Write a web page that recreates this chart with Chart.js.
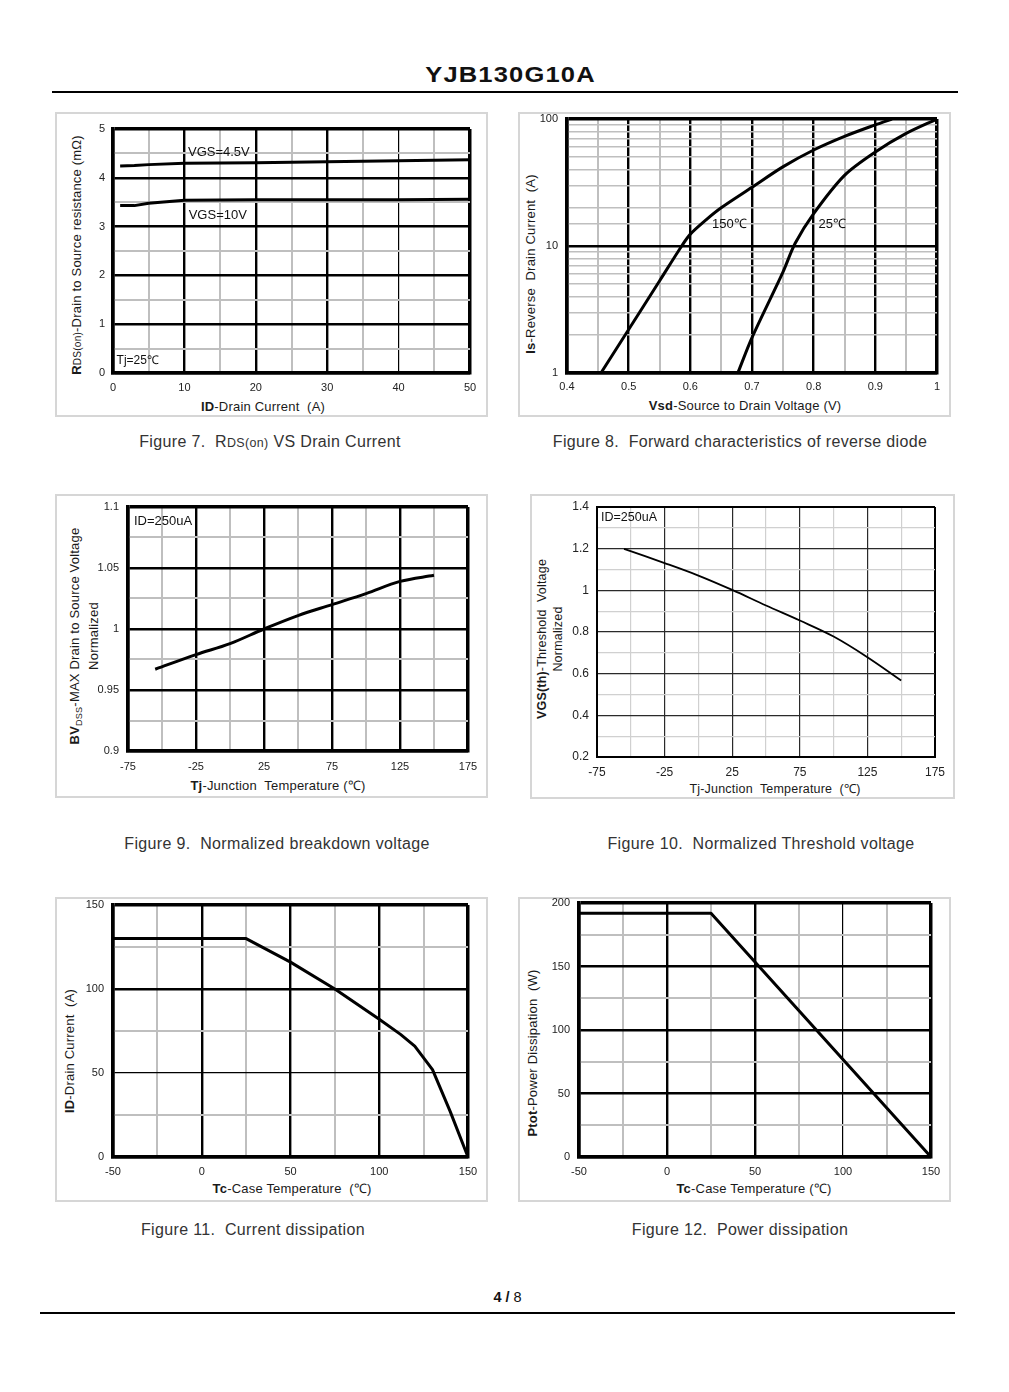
<!DOCTYPE html>
<html>
<head>
<meta charset="utf-8">
<script src="https://cdn.jsdelivr.net/npm/chart.js@4.4.1/dist/chart.umd.min.js"></script>
<style>
  html, body { margin:0; padding:0; background:#fff; }
  #page { position:relative; width:1009px; height:1392px; background:#fff; overflow:hidden;
          font-family:"Liberation Sans", Arial, sans-serif; color:#111; }
  .abs { position:absolute; }
  .panel { position:absolute; box-sizing:border-box; border:2px solid #d6d6d6; }
  canvas { position:absolute; }
  .ytitle { position:absolute; white-space:nowrap; transform:translate(-50%,-50%) rotate(-90deg);
            font-size:13px; letter-spacing:0.2px; color:#1a1a1a; text-align:center; line-height:16px; }
  .xtitle { position:absolute; white-space:nowrap; transform:translate(-50%,-50%);
            font-size:13px; letter-spacing:0.2px; color:#1a1a1a; }
  .cap { position:absolute; white-space:nowrap; transform:translateX(-50%);
         font-size:16px; letter-spacing:0.35px; color:#333; line-height:18px; }
  .small { font-size:0.78em; }
  .sub { font-size:0.7em; vertical-align:-0.25em; }
</style>
</head>
<body>
<div id="page">
  <div class="abs" style="left:6px;width:1009px;top:62px;text-align:center;line-height:26px;">
    <span style="display:inline-block;font-weight:bold;font-size:22px;letter-spacing:1px;transform:scaleX(1.16);">YJB130G10A</span>
  </div>
  <div class="abs" style="left:52px;top:91px;width:906px;height:2px;background:#000;"></div>

  <div class="abs" style="left:3px;width:1009px;top:1289px;text-align:center;font-size:14.5px;">
    <b>4 /</b> 8
  </div>
  <div class="abs" style="left:40px;top:1312px;width:915px;height:2px;background:#000;"></div>

  <!-- axis titles -->
  <div class="ytitle" style="left:77px;top:255px;"><b>R</b><span class="small">DS(on)</span>-Drain to Source resistance (mΩ)</div>
  <div class="xtitle" style="left:263px;top:406px;"><b>ID</b>-Drain Current&nbsp; (A)</div>

  <div class="ytitle" style="left:531px;top:264px;"><b>Is</b>-Reverse&nbsp; Drain Current&nbsp; (A)</div>
  <div class="xtitle" style="left:745px;top:405px;"><b>Vsd</b>-Source to Drain Voltage (V)</div>

  <div class="ytitle" style="left:85px;top:636px;"><b>BV</b><span class="sub">DSS</span>-MAX Drain to Source Voltage<br>Normalized</div>
  <div class="xtitle" style="left:278px;top:785px;"><b>Tj</b>-Junction&nbsp; Temperature (℃)</div>

  <div class="ytitle" style="left:550px;top:639px;font-size:12.5px;"><b>VGS(th)</b>-Threshold&nbsp; Voltage<br>Normalized</div>
  <div class="xtitle" style="left:775px;top:788px;font-size:12.5px;">Tj-Junction&nbsp; Temperature&nbsp; (℃)</div>

  <div class="ytitle" style="left:70px;top:1051px;"><b>ID</b>-Drain Current&nbsp; (A)</div>
  <div class="xtitle" style="left:292px;top:1188px;"><b>Tc</b>-Case Temperature&nbsp; (℃)</div>

  <div class="ytitle" style="left:533px;top:1053px;"><b>Ptot</b>-Power Dissipation&nbsp; (W)</div>
  <div class="xtitle" style="left:754px;top:1188px;"><b>Tc</b>-Case Temperature (℃)</div>

  <!-- captions -->
  <div class="cap" style="left:270px;top:433px;">Figure 7.&nbsp; R<span class="small">DS(on)</span> VS Drain Current</div>
  <div class="cap" style="left:740px;top:433px;">Figure 8.&nbsp; Forward characteristics of reverse diode</div>
  <div class="cap" style="left:277px;top:835px;">Figure 9.&nbsp; Normalized breakdown voltage</div>
  <div class="cap" style="left:761px;top:835px;">Figure 10.&nbsp; Normalized Threshold voltage</div>
  <div class="cap" style="left:253px;top:1221px;">Figure 11.&nbsp; Current dissipation</div>
  <div class="cap" style="left:740px;top:1221px;">Figure 12.&nbsp; Power dissipation</div>
</div>

<script>
// ---------------- DATA ----------------
// Figure 7: RDS(on) vs drain current
const fig7Current   = [1, 3, 5, 10, 20, 30, 40, 50];
const fig7Vgs45     = [4.24, 4.25, 4.27, 4.30, 4.31, 4.33, 4.35, 4.37];
const fig7Vgs10     = [3.43, 3.43, 3.48, 3.54, 3.55, 3.55, 3.55, 3.56];
const fig7XTicks    = [0, 10, 20, 30, 40, 50];
const fig7YTicks    = [0, 1, 2, 3, 4, 5];

// Figure 8: forward characteristics of reverse diode
const fig8Vsd150    = [0.455, 0.5, 0.55, 0.586, 0.6, 0.625, 0.65, 0.7, 0.75, 0.8, 0.85, 0.9, 0.927];
const fig8Is150     = [1, 2.2, 5.3, 10, 12.4, 16, 20, 29, 42, 57, 73, 90, 100];
const fig8Vsd25     = [0.677, 0.7, 0.75, 0.77, 0.8, 0.85, 0.9, 0.95, 1.0];
const fig8Is25      = [1, 1.9, 6.2, 10.5, 18, 36, 55, 77, 100];
const fig8XTicks    = [0.4, 0.5, 0.6, 0.7, 0.8, 0.9, 1];
const fig8YTicks    = [1, 10, 100];

// Figure 9: normalized breakdown voltage
const fig9Temp      = [-55, -25, 0, 25, 50, 75, 100, 125, 150];
const fig9BV        = [0.967, 0.979, 0.988, 1.0, 1.011, 1.020, 1.029, 1.039, 1.044];
const fig9XTicks    = [-75, -25, 25, 75, 125, 175];
const fig9YTicks    = [0.9, 0.95, 1, 1.05, 1.1];

// Figure 10: normalized threshold voltage
const fig10Temp     = [-55, -25, 0, 25, 50, 75, 100, 125, 150];
const fig10Vth      = [1.199, 1.131, 1.071, 1.002, 0.927, 0.855, 0.778, 0.679, 0.567];
const fig10XTicks   = [-75, -25, 25, 75, 125, 175];
const fig10YTicks   = [0.2, 0.4, 0.6, 0.8, 1, 1.2, 1.4];

// Figure 11: current derating
const fig11Tc       = [-50, 25, 50, 75, 100, 112, 120, 125, 130, 140, 150];
const fig11Id       = [130, 130, 116, 100, 82, 73, 66, 59, 52, 27, 0];
const fig11XTicks   = [-50, 0, 50, 100, 150];
const fig11YTicks   = [0, 50, 100, 150];

// Figure 12: power derating
const fig12Tc       = [-50, 25, 150];
const fig12Ptot     = [192, 192, 0];
const fig12XTicks   = [-50, 0, 50, 100, 150];
const fig12YTicks   = [0, 50, 100, 150, 200];

// ---------------- HELPERS ----------------
const FONT = '"Liberation Sans", Arial, sans-serif';
const near = (a, b) => Math.abs(a - b) < 1e-6;
const inList = (v, list) => list.some(t => near(v, t));
const fmt = v => String(Math.round(v * 1000) / 1000);
const pts = (xs, ys) => xs.map((x, i) => ({ x: x, y: ys[i] }));
const M = 24; // canvas extends this far beyond each panel (transparent)

const annotPlugin = {
  id: 'annot',
  afterDatasetsDraw(chart, args, opts) {
    const ctx = chart.ctx, xs = chart.scales.x, ys = chart.scales.y;
    (opts.items || []).forEach(it => {
      ctx.save();
      ctx.font = (it.size || 13) + 'px ' + FONT;
      ctx.fillStyle = '#111';
      ctx.textAlign = 'left';
      ctx.textBaseline = 'middle';
      ctx.fillText(it.text, xs.getPixelForValue(it.x), ys.getPixelForValue(it.y));
      ctx.restore();
    });
  }
};

function axis(o, horizontal, fitSize) {
  const st = o.style;
  const isEdge = v => near(v, o.min) || near(v, o.max);
  return {
    type: o.type || 'linear',
    min: o.min, max: o.max,
    ticks: {
      stepSize: o.step, autoSkip: false, maxRotation: 0, minRotation: 0,
      padding: o.pad, color: '#222',
      font: { family: FONT, size: st.fs || 11 },
      callback: v => inList(v, o.labels) ? fmt(v) : ''
    },
    grid: {
      drawTicks: false,
      color: c => {
        const v = c.tick.value;
        if (isEdge(v)) return '#000';
        return o.isMajor(v) ? st.majorC : st.minorC;
      },
      lineWidth: c => {
        const v = c.tick.value;
        if (isEdge(v)) return st.edgeW;
        if (o.isMajor(v)) return inList(v, o.thin || []) ? st.thinW : st.majorW;
        return st.minorW;
      }
    },
    border: { display: true, color: '#000', width: st.edgeW },
    afterFit: s => { if (horizontal) s.height = fitSize; else s.width = fitSize; }
  };
}

function build(panel, plot, datasets, xo, yo, annots) {
  const page = document.getElementById('page');
  const p = document.createElement('div');
  p.className = 'panel';
  Object.assign(p.style, { left: panel.x + 'px', top: panel.y + 'px', width: panel.w + 'px', height: panel.h + 'px' });
  page.insertBefore(p, page.firstChild);
  const cv = { x: panel.x - M, y: panel.y - M, w: panel.w + 2 * M, h: panel.h + 2 * M };
  const c = document.createElement('canvas');
  c.width = cv.w; c.height = cv.h;
  Object.assign(c.style, { left: cv.x + 'px', top: cv.y + 'px', width: cv.w + 'px', height: cv.h + 'px' });
  page.appendChild(c);
  new Chart(c, {
    type: 'line',
    data: { datasets: datasets },
    options: {
      responsive: false, animation: false,
      layout: { padding: { left: 0, bottom: 0, top: plot.y - cv.y,
                           right: (cv.x + cv.w) - (plot.x + plot.w) } },
      plugins: { legend: { display: false }, tooltip: { enabled: false }, annot: { items: annots } },
      elements: { point: { radius: 0, hoverRadius: 0 } },
      scales: {
        x: axis(xo, true, (cv.y + cv.h) - (plot.y + plot.h)),
        y: axis(yo, false, plot.x - cv.x)
      }
    },
    plugins: [annotPlugin]
  });
}

const heavy = { majorC: '#000', minorC: '#bfbfbf', majorW: 2.4, thinW: 1.2, minorW: 2, edgeW: 3.5, fs: 11 };
const line = (d, w, tension) => ({ data: d, borderColor: '#000', borderWidth: w, fill: false, pointRadius: 0,
                                  tension: tension || 0, cubicInterpolationMode: 'default',
                                  borderJoinStyle: 'round', borderCapStyle: 'butt' });

// Figure 7
build({ x: 55, y: 112, w: 433, h: 305 }, { x: 113, y: 129, w: 357, h: 244 },
  [line(pts(fig7Current, fig7Vgs45), 3), line(pts(fig7Current, fig7Vgs10), 3)],
  { min: 0, max: 50, step: 5, labels: fig7XTicks, isMajor: v => inList(v, fig7XTicks), thin: [40], pad: 8, style: heavy },
  { min: 0, max: 5, step: 0.5, labels: fig7YTicks, isMajor: v => inList(v, fig7YTicks), pad: 8, style: heavy },
  [{ text: 'VGS=4.5V', x: 10.5, y: 4.53 }, { text: 'VGS=10V', x: 10.6, y: 3.22 }, { text: 'Tj=25℃', x: 0.5, y: 0.25, size: 12 }]);

// Figure 8
build({ x: 518, y: 112, w: 433, h: 305 }, { x: 567, y: 119, w: 370, h: 254 },
  [line(pts(fig8Vsd150, fig8Is150), 3, 0.3), line(pts(fig8Vsd25, fig8Is25), 3, 0.3)],
  { min: 0.4, max: 1, step: 0.05, labels: fig8XTicks, isMajor: v => inList(v, fig8XTicks), pad: 7, style: heavy },
  { type: 'logarithmic', min: 1, max: 100, labels: fig8YTicks, isMajor: v => inList(v, fig8YTicks), pad: 9,
    style: Object.assign({}, heavy, { minorW: 1.5 }) },
  [{ text: '150℃', x: 0.635, y: 14.8 }, { text: '25℃', x: 0.808, y: 14.8 }]);

// Figure 9
build({ x: 55, y: 494, w: 433, h: 304 }, { x: 128, y: 507, w: 340, h: 244 },
  [line(pts(fig9Temp, fig9BV), 3, 0.35)],
  { min: -75, max: 175, step: 25, labels: fig9XTicks, isMajor: v => inList(v, fig9XTicks), pad: 9, style: heavy },
  { min: 0.9, max: 1.1, step: 0.025, labels: fig9YTicks, isMajor: v => inList(v, fig9YTicks), pad: 9, style: heavy },
  [{ text: 'ID=250uA', x: -70.6, y: 1.0885 }]);

// Figure 10
const light = { majorC: '#2a2a2a', minorC: '#d0d0d0', majorW: 1.2, thinW: 1, minorW: 1.2, edgeW: 2, fs: 12 };
build({ x: 530, y: 494, w: 425, h: 305 }, { x: 597, y: 507, w: 338, h: 250 },
  [line(pts(fig10Temp, fig10Vth), 1.8, 0.35)],
  { min: -75, max: 175, step: 25, labels: fig10XTicks, isMajor: v => inList(v, fig10XTicks), pad: 8, style: light },
  { min: 0.2, max: 1.4, step: 0.1, labels: fig10YTicks, isMajor: v => inList(v, fig10YTicks), pad: 8, style: light },
  [{ text: 'ID=250uA', x: -72, y: 1.347, size: 12.5 }]);

// Figure 11
build({ x: 55, y: 897, w: 433, h: 305 }, { x: 113, y: 905, w: 355, h: 252 },
  [line(pts(fig11Tc, fig11Id), 3)],
  { min: -50, max: 150, step: 25, labels: fig11XTicks, isMajor: v => inList(v, fig11XTicks), pad: 8, style: heavy },
  { min: 0, max: 150, step: 25, labels: fig11YTicks, isMajor: v => inList(v, fig11YTicks), thin: [50], pad: 9, style: heavy },
  []);

// Figure 12
build({ x: 518, y: 897, w: 433, h: 305 }, { x: 579, y: 903, w: 352, h: 254 },
  [line(pts(fig12Tc, fig12Ptot), 3)],
  { min: -50, max: 150, step: 25, labels: fig12XTicks, isMajor: v => inList(v, fig12XTicks), thin: [100], pad: 8, style: heavy },
  { min: 0, max: 200, step: 25, labels: fig12YTicks, isMajor: v => inList(v, fig12YTicks), pad: 9, style: heavy },
  []);
</script>
</body>
</html>
